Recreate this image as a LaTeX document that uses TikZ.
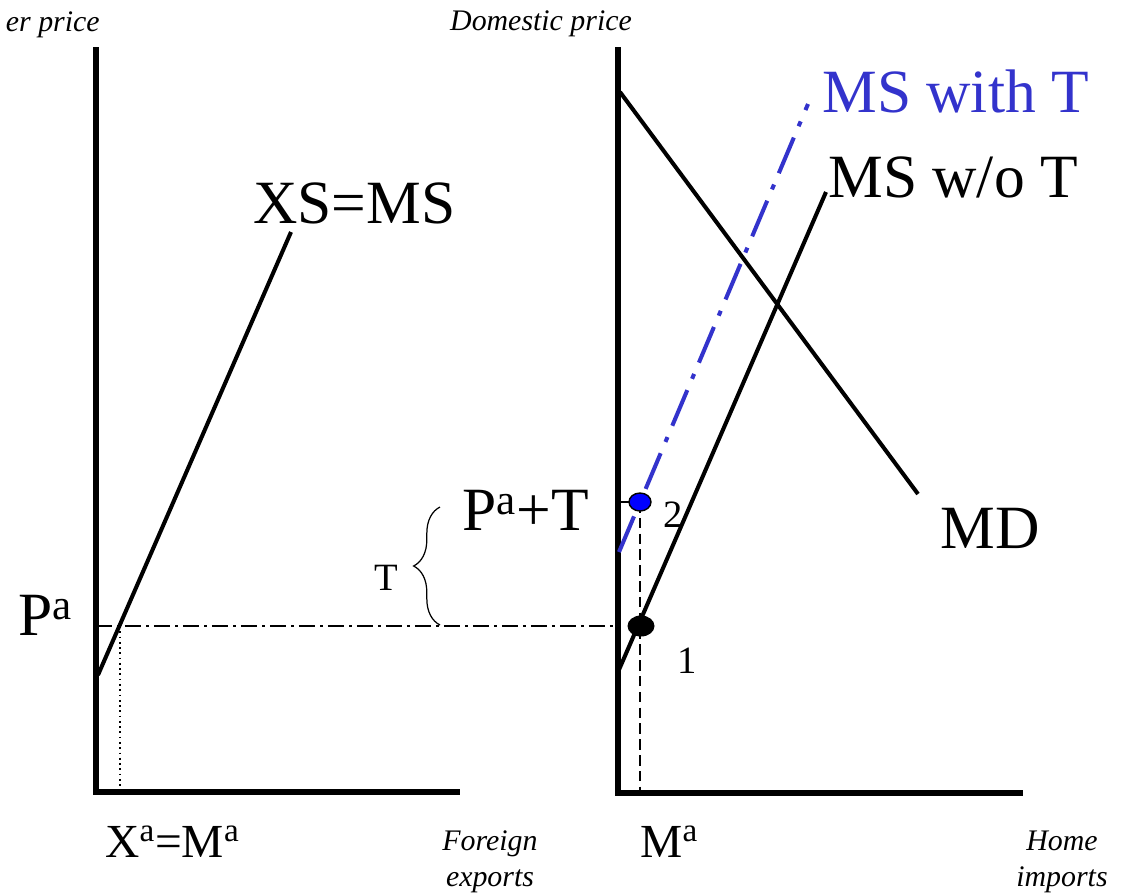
\documentclass[tikz,border=0pt]{standalone}
\usepackage{fontspec}
\setmainfont{Liberation Serif}
\usepackage{tikz}
\usetikzlibrary{shapes.geometric, decorations.pathreplacing}
\definecolor{tariffblue}{HTML}{3333CC}

\begin{document}
\begin{tikzpicture}[x=0.02cm, y=-0.02cm,
    axis/.style={line width=3.4pt},
    curve/.style={line width=2.3pt},
    shifted/.style={line width=2.3pt, draw=tariffblue,
                    dash pattern=on 22pt off 7pt on 3pt off 7pt},
    guide/.style={line width=0.7pt, dash pattern=on 9pt off 3pt on 1.5pt off 3pt},
    drop/.style={line width=1.1pt, dash pattern=on 6pt off 3pt},
    lbl/.style={inner sep=0pt, anchor=base west},
    big/.style={lbl, font=\fontsize{35}{40}\selectfont},
    mid/.style={lbl, font=\fontsize{27}{30}\selectfont},
    small/.style={lbl, font=\fontsize{22}{26}\selectfont},
    axname/.style={inner sep=0pt, align=center,
                   font=\fontsize{17}{20.5}\selectfont\itshape},
    brace/.style={decorate, decoration={brace, amplitude=15pt}, line width=0.7pt}
]
    \useasboundingbox (0,0) rectangle (1125,893);

    % axes
    \coordinate (ltop)  at (96,47);
    \coordinate (lorig) at (96,792);
    \coordinate (lend)  at (460,792);
    \coordinate (rtop)  at (618,47);
    \coordinate (rorig) at (618,793);
    \coordinate (rend)  at (1023,793);
    \draw[axis] (ltop) -- (lorig) -- (lend);
    \draw[axis] (rtop) -- (rorig) -- (rend);

    % schedules
    \coordinate (xsa) at (98,675);   \coordinate (xsb) at (291,232);
    \coordinate (mda) at (620,92);   \coordinate (mdb) at (918,494);
    \coordinate (msa) at (618,672);  \coordinate (msb) at (826,192);
    \coordinate (mta) at (619,552);  \coordinate (mtb) at (808,104);
    \draw[curve] (xsa) -- (xsb);
    \draw[curve] (mda) -- (mdb);
    \draw[curve] (msa) -- (msb);
    \draw[shifted] (mta) -- (mtb);

    % equilibrium guides
    \coordinate (pl) at (96,626);
    \coordinate (pr) at (618,626);
    \coordinate (xa) at (120,626);
    \coordinate (c1) at (641,626);
    \coordinate (c2) at (640,502);
    \coordinate (t2) at (618,502);
    \draw[guide] (pl) -- (pr);
    \draw[line width=1pt, dotted] (xa) -- (xa |- lorig);
    \draw[drop] (c2) -- (c2 |- rorig);
    \draw[drop] (t2) -- (c2);

    \node[ellipse, fill=black, minimum width=0.54cm, minimum height=0.42cm,
          inner sep=0pt] (eq1) at (c1) {};
    \node[ellipse, fill=blue, draw=black, line width=0.8pt, minimum width=0.44cm,
          minimum height=0.36cm, inner sep=0pt] (eq2) at (c2) {};

    \coordinate (bb) at (440,625);
    \coordinate (bt) at (440,507);
    \draw[brace] (bb) -- (bt);

    % labels
    \node[axname, anchor=base east] (fprice) at (100,31) {er price};
    \node[axname, anchor=base] (dprice) at (541,30) {Domestic price};
    \node[axname, anchor=base] (fexp) at (490,886) {Foreign\\exports};
    \node[axname, anchor=base] (himp) at (1062,886) {Home\\imports};

    \node[big, text=tariffblue] (mswith) at (822,112) {MS with T};
    \node[big] (mswo) at (828,197) {MS w/o T};
    \node[big] (xsms) at (253,223) {XS=MS};
    \node[big] (md) at (940,548) {MD};
    \node[big] (pa) at (18,635) {P\textsuperscript{a}};
    \node[big] (pat) at (462,530) {P\textsuperscript{a}+T};
    \node[mid] (xama) at (105,857) {X\textsuperscript{a}=M\textsuperscript{a}};
    \node[mid] (ma) at (640,857) {M\textsuperscript{a}};
    \node[small] (tlab) at (374,590) {T};
    \node[small] (lab2) at (663,527) {2};
    \node[small] (lab1) at (677,673) {1};
\end{tikzpicture}
\end{document}
